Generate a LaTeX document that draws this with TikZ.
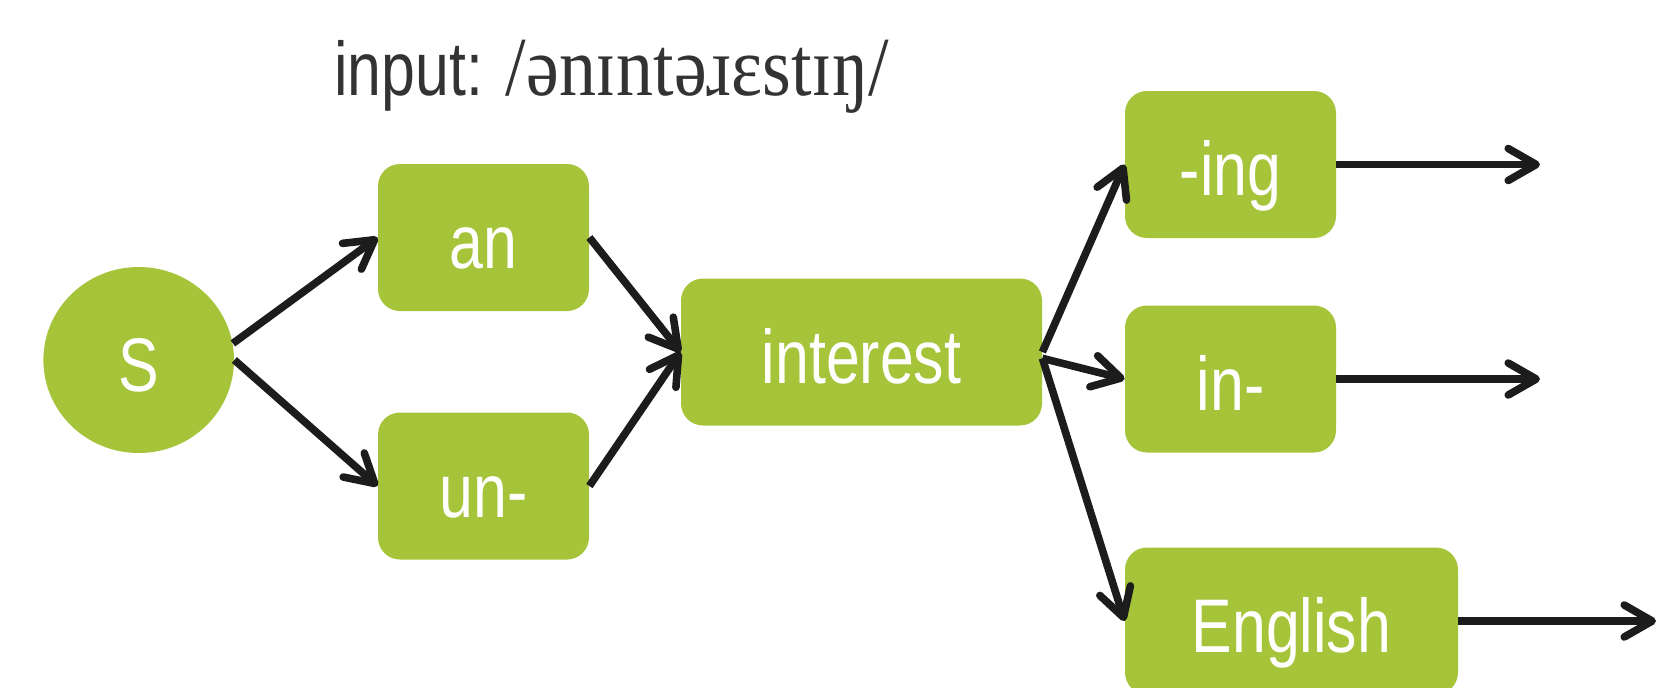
\documentclass[tikz,border=0pt]{standalone}
\usepackage{fontspec}
\usepackage{tikz}
\usetikzlibrary{arrows.meta,shapes.geometric}
\newfontfamily\labelfont{Liberation Sans}[FakeStretch=0.8]
\newfontfamily\ipafont{Liberation Serif}[FakeStretch=0.88]
\definecolor{boxgreen}{RGB}{166,196,58}
\definecolor{arrowblack}{RGB}{28,28,28}
\definecolor{titlegray}{RGB}{51,51,51}
\tikzset{
    morph/.style={rectangle, rounded corners=11pt, fill=boxgreen, text=white,
        font=\labelfont\fontsize{38}{40}\selectfont, minimum width=105.5pt,
        minimum height=73.5pt, text height=31pt, text depth=0pt, inner sep=0pt},
    stem morph/.style={morph, minimum width=180.5pt},
    word morph/.style={morph, minimum width=166.5pt},
    start state/.style={ellipse, fill=boxgreen, text=white,
        font=\labelfont\fontsize{38}{40}\selectfont, minimum width=95.3pt,
        minimum height=93pt, text height=31pt, text depth=0pt, inner sep=0pt},
    title text/.style={text=titlegray, font=\labelfont\fontsize{38}{40}\selectfont, inner sep=0pt},
    path arrow/.style={-{Straight Barb[length=14pt,width=16pt,round]}, line width=3.8pt, arrowblack}
}

\begin{document}
\begin{tikzpicture}[x=0.5pt, y=-0.5pt]
    \useasboundingbox (0,0) rectangle (1660,687);

    % Input transcription
    \node[title text, anchor=base west] (title) at (334,95)
        {input: {\ipafont\fontsize{42}{44}\selectfont /ənɪntəɹɛstɪŋ/}};

    % Start state and first morphs
    \node[start state] (s) at (138.7,360) {S};
    \node[morph] (an) at (483.5,237.5) {an};
    \node[morph] (un) at (483.5,486) {un-};

    % Stem
    \node[stem morph] (interest) at (861.5,352) {interest};

    % Continuations
    \node[morph] (ing) at (1230.5,164.5) {-ing};
    \node[morph] (in) at (1230.5,379) {in-};
    \node[word morph] (english) at (1291.5,621) {English};

    % Open ends on the right
    \coordinate (ingEnd) at (1540,164.5);
    \coordinate (inEnd) at (1540,379);
    \coordinate (englishEnd) at (1656,621);

    % Arcs
    \draw[path arrow] (s.10) -- (an.west);
    \draw[path arrow] (s.east) -- (un.west);
    \draw[path arrow] (an.east) -- (interest.west);
    \draw[path arrow] (un.east) -- (interest.west);
    \draw[path arrow] (interest.east) -- (ing.west);
    \draw[path arrow] (interest.-2) -- (in.west);
    \draw[path arrow] (interest.-2) -- (english.west);
    \draw[path arrow] (ing.east) -- (ingEnd);
    \draw[path arrow] (in.east) -- (inEnd);
    \draw[path arrow] (english.east) -- (englishEnd);
\end{tikzpicture}
\end{document}
